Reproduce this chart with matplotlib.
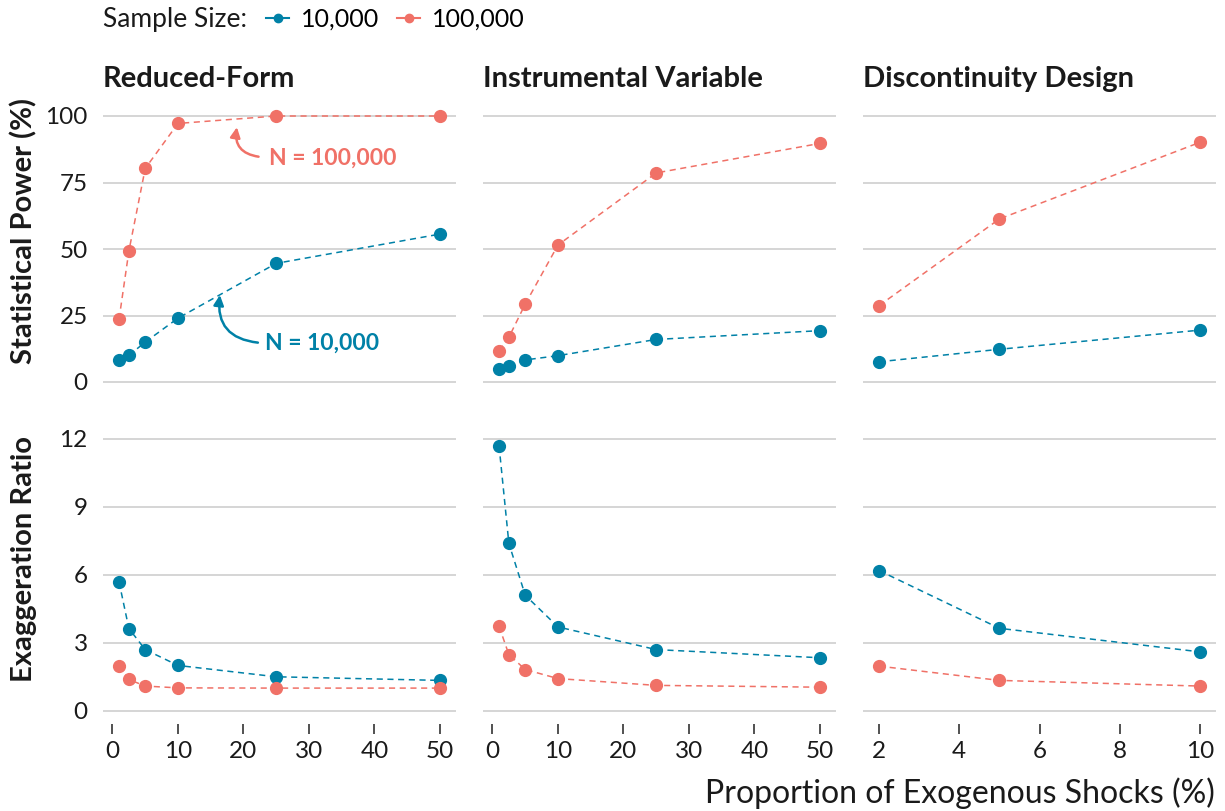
import matplotlib
matplotlib.use("Agg")
import matplotlib.pyplot as plt
from matplotlib.lines import Line2D

plt.rcParams['font.family'] = ['Lato', 'DejaVu Sans']

# facets and series
designs = ["Reduced-Form", "Instrumental Variable", "Discontinuity Design"]
metrics = ["Statistical Power (%)", "Exaggeration Ratio"]
sample_sizes = ["10,000", "100,000"]
colors = ["#0081a7", "#f07167"]

# proportion of exogenous shocks (%)
rf_share = [1, 2.5, 5, 10, 25, 50]
iv_share = [1, 2.5, 5, 10, 25, 50]
rdd_share = [2, 5, 10]

# statistical power (%)
rf_power_10k = [8.3, 10.0, 15.0, 24.0, 44.6, 55.6]
rf_power_100k = [23.6, 49.2, 80.3, 97.2, 100, 100]
iv_power_10k = [5.0, 6.1, 8.3, 9.9, 16.0, 19.3]
iv_power_100k = [11.8, 16.8, 29.3, 51.5, 78.6, 89.7]
rdd_power_10k = [7.6, 12.3, 19.5]
rdd_power_100k = [28.7, 61.3, 90.1]

# exaggeration ratio
rf_ratio_10k = [5.69, 3.63, 2.70, 2.0, 1.50, 1.34]
rf_ratio_100k = [1.97, 1.38, 1.09, 1.01, 1.0, 1.0]
iv_ratio_10k = [11.70, 7.39, 5.10, 3.70, 2.70, 2.34]
iv_ratio_100k = [3.73, 2.48, 1.82, 1.42, 1.12, 1.04]
rdd_ratio_10k = [6.19, 3.64, 2.60]
rdd_ratio_100k = [1.97, 1.34, 1.09]

x_ticks = [[0, 10, 20, 30, 40, 50], [0, 10, 20, 30, 40, 50], [2, 4, 6, 8, 10]]
y_ticks = [[0, 25, 50, 75, 100], [0, 3, 6, 9, 12]]

shares = [rf_share, iv_share, rdd_share]
values = [
    [[rf_power_10k, rf_power_100k], [iv_power_10k, iv_power_100k], [rdd_power_10k, rdd_power_100k]],
    [[rf_ratio_10k, rf_ratio_100k], [iv_ratio_10k, iv_ratio_100k], [rdd_ratio_10k, rdd_ratio_100k]],
]

W, H = 1225, 811
fig = plt.figure(figsize=(W / 100, H / 100), dpi=100)

panel_left = [103, 483, 863]
panel_w = 353
row_top = [102.7, 432.5]
row_h = [292.6, 291.5]

grid_col = "#d2d2d2"
text_col = "#1a1a1a"

axes = [[None] * 3 for _ in range(2)]
for r in range(2):
    # shared y range per row, expanded to include 0 and padded 5%
    hi = max(max(s) for col in values[r] for s in col)
    pad = 0.05 * hi
    for c in range(3):
        ax = fig.add_axes([panel_left[c] / W, 1 - (row_top[r] + row_h[r]) / H,
                           panel_w / W, row_h[r] / H])
        axes[r][c] = ax
        for k in range(2):
            ax.plot(shares[c], values[r][c][k], color=colors[k], lw=1.1,
                    ls=(0, (4, 3)), marker='o', markersize=8.5, zorder=3)
        ax.set_ylim(-pad, hi + pad)
        ax.margins(x=0.05)
        ax.set_xticks(x_ticks[c])
        ax.set_yticks(y_ticks[r])
        ax.grid(axis='y', color=grid_col, lw=1.3)
        ax.set_axisbelow(True)
        for sp in ax.spines.values():
            sp.set_visible(False)
        ax.tick_params(axis='y', length=0, pad=11, labelsize=17.5, labelcolor=text_col)
        ax.tick_params(axis='x', length=7, width=1.2, color="#333333", pad=5,
                       labelsize=17.5, labelcolor=text_col)
        if c > 0:
            ax.tick_params(axis='y', labelleft=False)
        if r == 0:
            ax.tick_params(axis='x', length=0, labelbottom=False)
            ax.set_title(designs[c], loc='left', fontsize=21, fontweight='bold',
                         color=text_col, pad=11)

# row labels
fig.text(24 / W, 1 - 231 / H, metrics[0], rotation=90, ha='center', va='center',
         fontsize=21, fontweight='bold', color=text_col)
fig.text(24 / W, 1 - 559 / H, metrics[1], rotation=90, ha='center', va='center',
         fontsize=21, fontweight='bold', color=text_col)

# x axis title
fig.text(1215 / W, 1 - 793 / H, "Proportion of Exogenous Shocks (%)", ha='right',
         va='center', fontsize=23, color=text_col)

# annotations on the reduced-form power panel
ax = axes[0][0]
ax.text(23.9, 84.1, "N = 100,000", color=colors[1], fontsize=16.5, fontweight='bold',
        va='center', ha='left')
ax.annotate("", xy=(19.0, 95.8), xytext=(22.3, 84.7),
            arrowprops=dict(arrowstyle="-|>,head_length=0.6,head_width=0.3",
                            connectionstyle="arc3,rad=-0.5", color=colors[1], lw=1.8,
                            shrinkA=0, shrinkB=0))
ax.text(23.3, 14.5, "N = 10,000", color=colors[0], fontsize=16.5, fontweight='bold',
        va='center', ha='left')
ax.annotate("", xy=(16.4, 32.7), xytext=(22.2, 14.8),
            arrowprops=dict(arrowstyle="-|>,head_length=0.6,head_width=0.3",
                            connectionstyle="arc3,rad=-0.5", color=colors[0], lw=1.8,
                            shrinkA=0, shrinkB=0))

# legend
fig.text(103 / W, 1 - 19 / H, "Sample Size:", ha='left', va='center', fontsize=19,
         color=text_col)
handles = [Line2D([], [], color=colors[k], marker='o', markersize=6, lw=1.5)
           for k in range(2)]
fig.legend(handles, sample_sizes, loc='center left', bbox_to_anchor=(266 / W, 1 - 19 / H),
           ncol=2, frameon=False, handlelength=0.92, handletextpad=0.47,
           columnspacing=0.72, fontsize=18, borderaxespad=0, borderpad=0)

fig.savefig("out.png", dpi=100)
